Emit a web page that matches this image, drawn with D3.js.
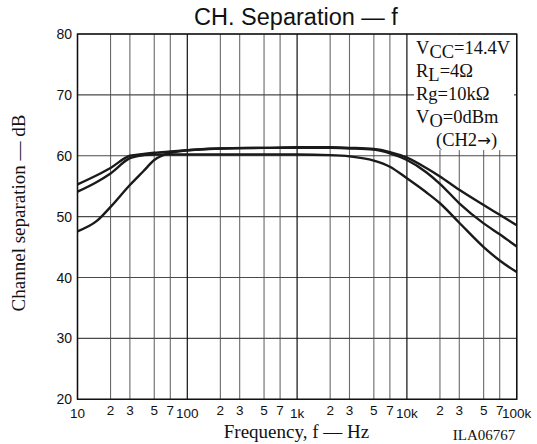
<!DOCTYPE html>
<html><head><meta charset="utf-8">
<script src="https://cdn.jsdelivr.net/npm/d3@7"></script>
<style>body{margin:0;background:#fff}svg{display:block}</style>
</head><body>
<svg id="c" width="537" height="444"></svg>
<script>
const freqs = [10, 15, 20, 30, 40, 50, 70, 100, 200, 500, 1000, 2000, 3000, 5000, 7000, 10000, 15000, 20000, 30000, 50000, 70000, 100000];
const curveA = [55.3, 56.8, 58.0, 60.0, 60.3, 60.5, 60.7, 60.9, 61.2, 61.3, 61.4, 61.4, 61.3, 61.1, 60.6, 59.7, 58.0, 56.6, 54.4, 51.9, 50.3, 48.6];
const curveB = [54.1, 55.7, 57.1, 59.6, 60.1, 60.2, 60.2, 60.2, 60.2, 60.2, 60.2, 60.1, 59.9, 59.2, 58.2, 56.3, 54.0, 52.2, 49.0, 45.0, 42.8, 40.9];
const curveC = [47.6, 49.3, 51.6, 55.2, 57.5, 59.3, 60.5, 60.9, 61.2, 61.3, 61.3, 61.3, 61.2, 61.0, 60.4, 59.3, 57.3, 55.4, 52.2, 48.9, 47.1, 45.1];
const yTicks = [20, 30, 40, 50, 60, 70, 80];
const xMajor = [10, 100, 1000, 10000, 100000];
const xMajorLabels = ["10", "100", "1k", "10k", "100k"];
const minorMult = [2, 3, 5, 7];
const minorLabels = ["2", "3", "5", "7"];
const title = "CH. Separation — f";
const xTitle = "Frequency, f — Hz";
const yTitle = "Channel separation — dB";
const code = "ILA06767";

const svg = d3.select("#c");
const L = 77.5, R = 516.7, T = 34, B = 399.3;
const x = d3.scaleLog().domain([10, 100000]).range([L, R]);
const y = d3.scaleLinear().domain([20, 80]).range([B, T]);
const serif = "Liberation Serif, Times New Roman, serif";
const sans = "Liberation Sans, Arial, sans-serif";

const minorVals = [];
xMajor.slice(0, -1).forEach(d => minorMult.forEach((m, i) => minorVals.push({v: d * m, lab: minorLabels[i]})));

// grid
const g = svg.append("g");
g.selectAll(".vm").data(minorVals).enter().append("line")
  .attr("x1", d => x(d.v)).attr("x2", d => x(d.v)).attr("y1", T).attr("y2", B)
  .attr("stroke", "#6a6a6a").attr("stroke-width", 1.1);
g.selectAll(".hy").data(yTicks).enter().append("line")
  .attr("x1", L).attr("x2", R).attr("y1", d => y(d)).attr("y2", d => y(d))
  .attr("stroke", "#4a4a4a").attr("stroke-width", 1.1);
g.selectAll(".vM").data(xMajor).enter().append("line")
  .attr("x1", d => x(d)).attr("x2", d => x(d)).attr("y1", T).attr("y2", B)
  .attr("stroke", "#111").attr("stroke-width", 1.2);

// curves
const line = d3.line().x((d, i) => x(freqs[i])).y(d => y(d)).curve(d3.curveMonotoneX);
[curveA, curveB, curveC].forEach(c => {
  svg.append("path").attr("d", line(c)).attr("fill", "none")
    .attr("stroke", "#1a1a1a").attr("stroke-width", 2.4).attr("stroke-linejoin", "round");
});

// legend background
svg.append("rect").attr("x", 414).attr("y", T + 1).attr("width", 100).attr("height", 115).attr("fill", "#fff");

// frame
svg.append("rect").attr("x", L).attr("y", T).attr("width", R - L).attr("height", B - T)
  .attr("fill", "none").attr("stroke", "#111").attr("stroke-width", 1.4);

// legend text
const lg = svg.append("g").attr("font-family", serif).attr("font-size", 18.5).attr("fill", "#111");
function sub(yy, xx, main, s, rest) {
  const t = lg.append("text").attr("x", xx).attr("y", yy);
  t.append("tspan").text(main);
  if (s) t.append("tspan").attr("dy", 4).text(s);
  t.append("tspan").attr("dy", s ? -4 : 0).text(rest);
}
sub(54, 416, "V", "CC", "=14.4V");
sub(77, 416, "R", "L", "=4Ω");
sub(100, 416, "Rg=10kΩ", "", "");
sub(123, 416, "V", "O", "=0dBm");
const ch = lg.append("text").attr("x", 436).attr("y", 146);
ch.append("tspan").text("(CH2");
ch.append("tspan").attr("font-family", "DejaVu Sans, sans-serif").attr("font-size", 16.5).text("→");
ch.append("tspan").text(")");

// y tick labels
svg.selectAll(".yl").data(yTicks).enter().append("text")
  .attr("x", 72).attr("y", d => y(d) + 5).attr("text-anchor", "end")
  .attr("font-family", sans).attr("font-size", 14).attr("fill", "#111").text(d => d);

// x tick labels
svg.selectAll(".xm").data(minorVals).enter().append("text")
  .attr("x", d => x(d.v)).attr("y", 415).attr("text-anchor", "middle")
  .attr("font-family", sans).attr("font-size", 13.5).attr("fill", "#111").text(d => d.lab);
svg.selectAll(".xM").data(xMajor).enter().append("text")
  .attr("x", d => x(d)).attr("y", 418).attr("text-anchor", "middle")
  .attr("font-family", sans).attr("font-size", 13.5).attr("fill", "#111").text((d, i) => xMajorLabels[i]);

// titles
svg.append("text").attr("x", 296).attr("y", 25).attr("text-anchor", "middle")
  .attr("font-family", sans).attr("font-size", 23.5).attr("fill", "#111").text(title);
svg.append("text").attr("x", 296.5).attr("y", 438).attr("text-anchor", "middle")
  .attr("font-family", serif).attr("font-size", 19).attr("fill", "#111").text(xTitle);
svg.append("text").attr("transform", "translate(25,213) rotate(-90)").attr("text-anchor", "middle")
  .attr("font-family", serif).attr("font-size", 19).attr("fill", "#111").text(yTitle);
svg.append("text").attr("x", 484).attr("y", 440).attr("text-anchor", "middle")
  .attr("font-family", serif).attr("font-size", 15).attr("fill", "#111").text(code);
</script>
</body></html>
